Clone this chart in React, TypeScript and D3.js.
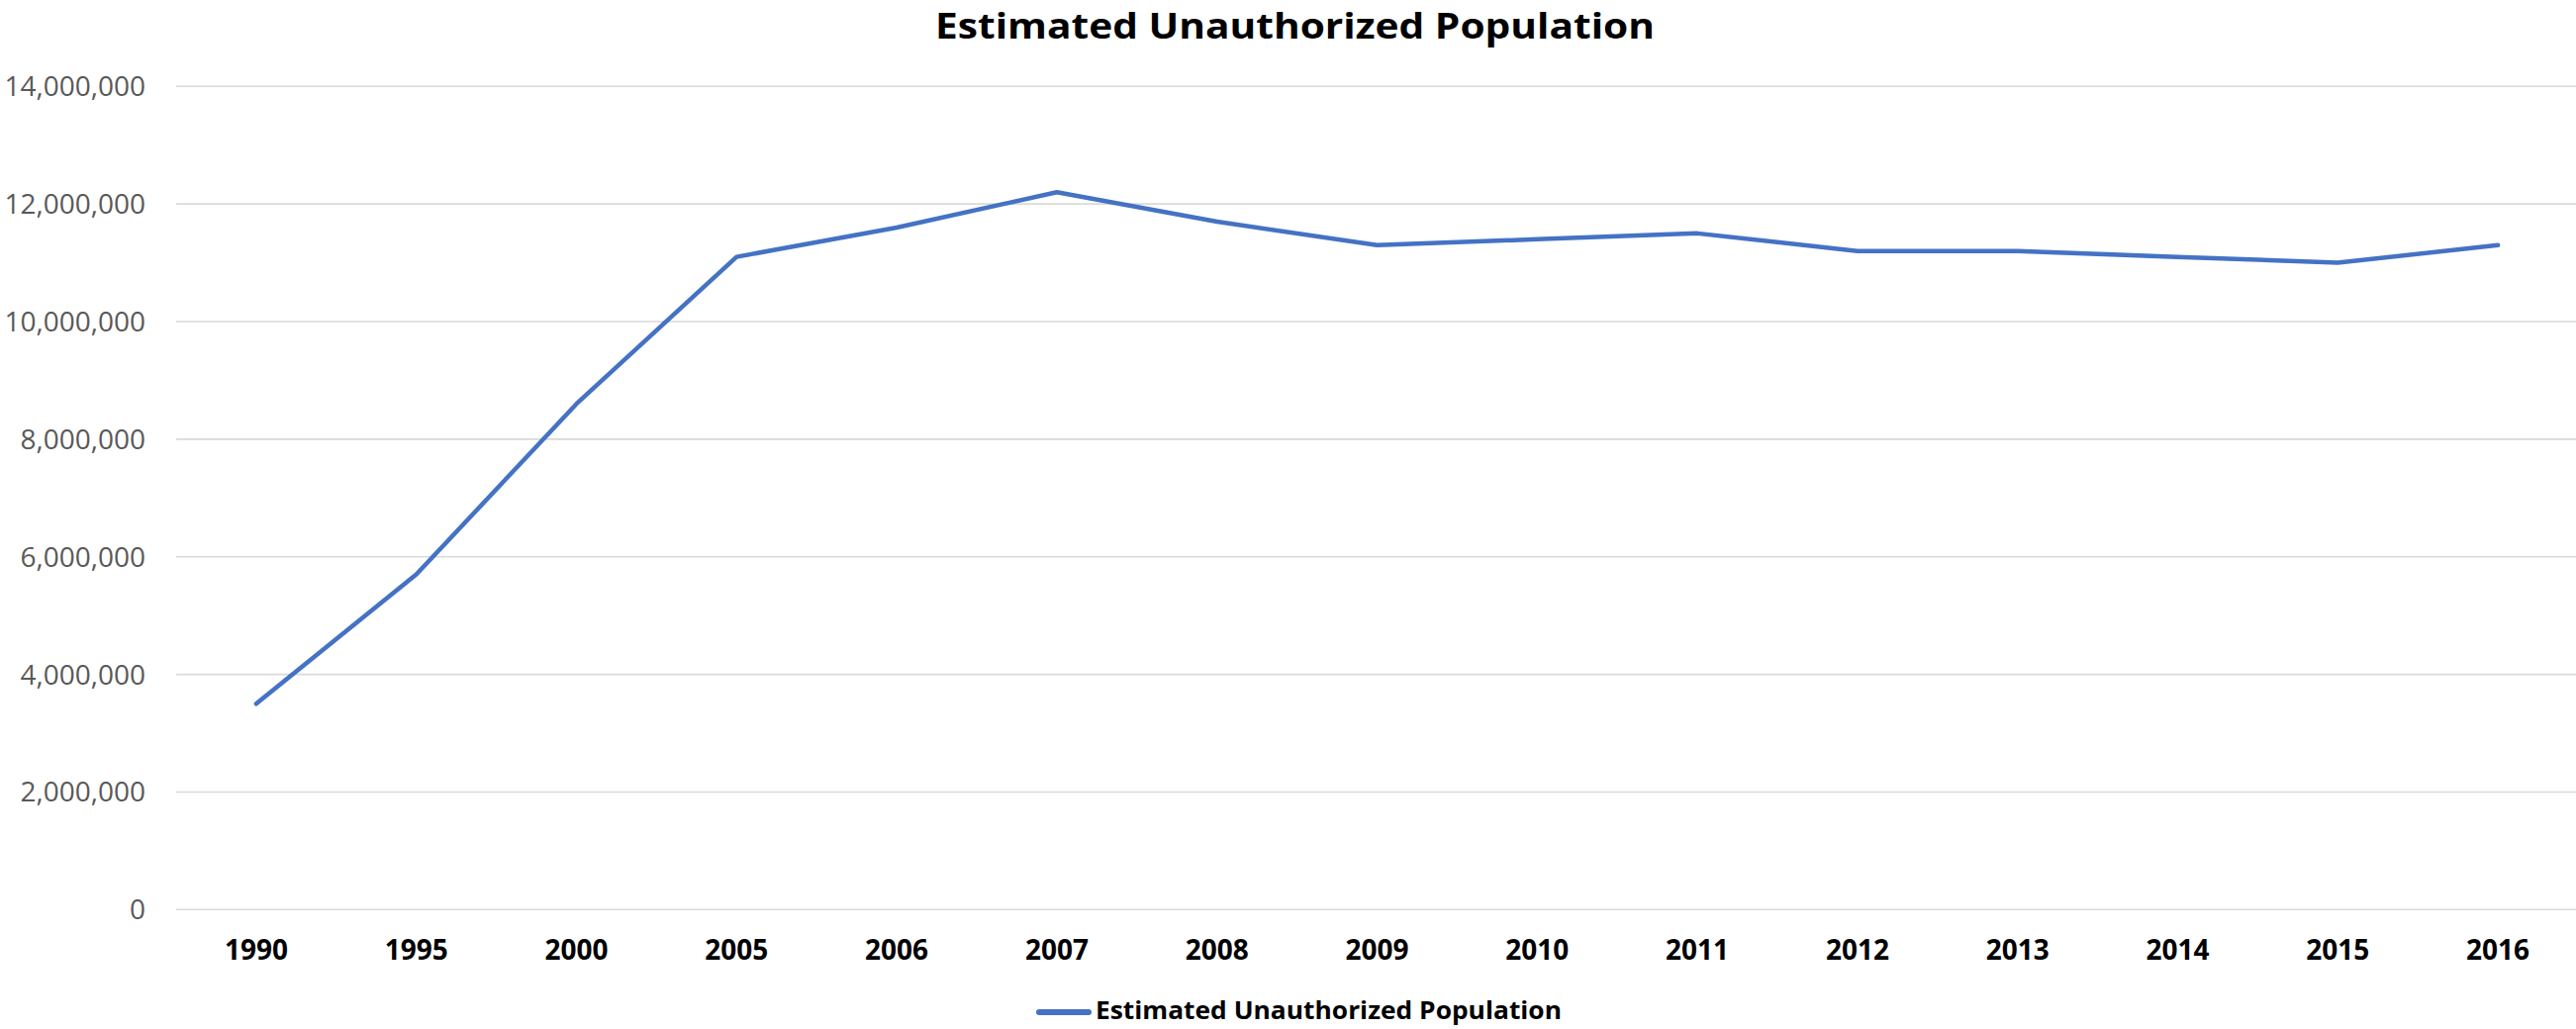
import React from "react";
import * as d3 from "d3";

const years: string[] = ["1990", "1995", "2000", "2005", "2006", "2007", "2008", "2009", "2010", "2011", "2012", "2013", "2014", "2015", "2016"];
const population: number[] = [3500000, 5700000, 8600000, 11100000, 11600000, 12200000, 11700000, 11300000, 11400000, 11500000, 11200000, 11200000, 11100000, 11000000, 11300000];
const yTicks: number[] = [0, 2000000, 4000000, 6000000, 8000000, 10000000, 12000000, 14000000];
const title = "Estimated Unauthorized Population";
const seriesName = "Estimated Unauthorized Population";

const W = 2603;
const H = 1040;
const FONT = "'Open Sans', 'Noto Sans', sans-serif";

export default function App() {
  const x = d3.scaleBand<string>().domain(years).range([178, 2605]).padding(0);
  const y = d3.scaleLinear().domain([0, 14000000]).range([919.3, 87.3]);
  const fmt = d3.format(",");
  const line = d3
    .line<number>()
    .x((_, i) => (x(years[i]) as number) + x.bandwidth() / 2)
    .y((d) => y(d));

  return (
    <svg
      width={W}
      height={H}
      style={{ position: "absolute", left: 0, top: 0, background: "#fff" }}
    >
      <rect x={0} y={0} width={W} height={H} fill="#fff" />
      <text
        x={1308.5}
        y={38.5}
        textAnchor="middle"
        fontFamily={FONT}
        fontWeight={700}
        fontSize={36}
        textLength={727}
        lengthAdjust="spacingAndGlyphs"
        fill="#000"
      >
        {title}
      </text>
      {yTicks.map((t) => (
        <g key={t}>
          <line x1={178} x2={W} y1={y(t)} y2={y(t)} stroke="#D9D9D9" strokeWidth={1.6} />
          <text
            x={147}
            y={y(t) + 10}
            textAnchor="end"
            fontFamily={FONT}
            fontSize={28}
            fill="#595959"
          >
            {fmt(t)}
          </text>
        </g>
      ))}
      {years.map((yr) => (
        <text
          key={yr}
          x={(x(yr) as number) + x.bandwidth() / 2}
          y={970}
          textAnchor="middle"
          fontFamily={FONT}
          fontWeight={700}
          fontSize={28}
          fill="#000"
        >
          {yr}
        </text>
      ))}
      <path
        d={line(population) || ""}
        fill="none"
        stroke="#4472C4"
        strokeWidth={4.5}
        strokeLinejoin="round"
        strokeLinecap="round"
      />
      <line x1={1050} x2={1100} y1={1023} y2={1023} stroke="#4472C4" strokeWidth={6} strokeLinecap="round" />
      <text
        x={1107}
        y={1030}
        fontFamily={FONT}
        fontWeight={700}
        fontSize={25}
        textLength={471}
        lengthAdjust="spacingAndGlyphs"
        fill="#000"
      >
        {seriesName}
      </text>
    </svg>
  );
}
